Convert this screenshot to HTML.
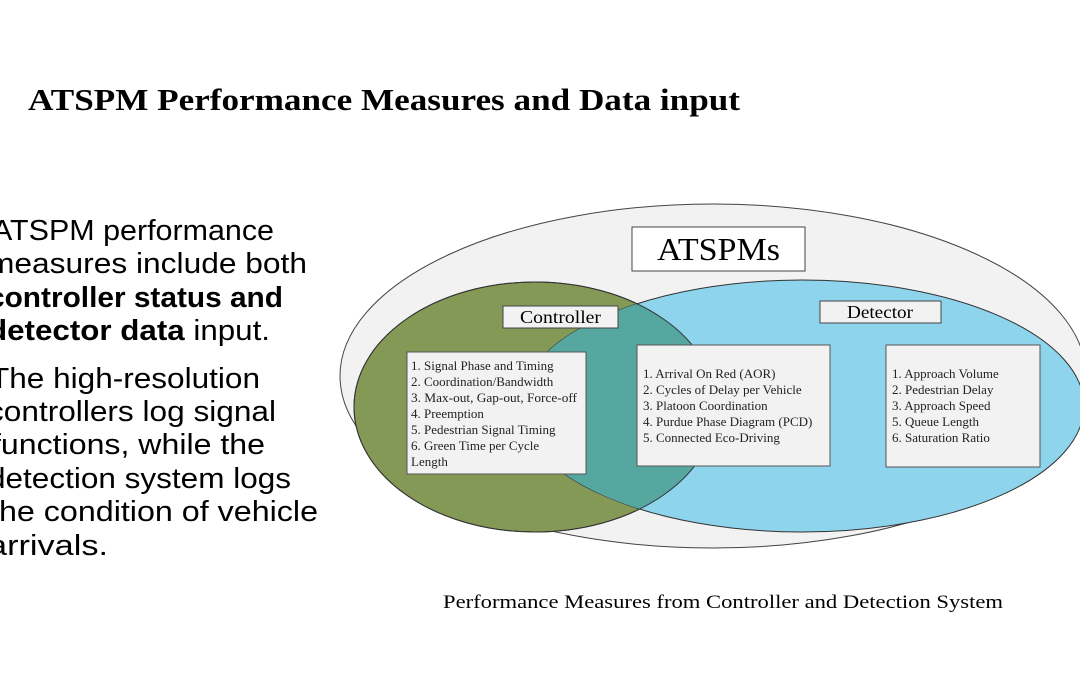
<!DOCTYPE html>
<html><head><meta charset="utf-8"><style>
html,body{margin:0;padding:0;background:#fff;width:1080px;height:675px;overflow:hidden;position:relative}
</style></head><body>
<svg width="1080" height="675" style="position:absolute;left:0;top:0" font-family="Liberation Serif, serif">
<text x="28" y="110" font-size="31" font-weight="bold" textLength="712" lengthAdjust="spacingAndGlyphs">ATSPM Performance Measures and Data input</text>
<g font-family="Liberation Sans, sans-serif" font-size="29" fill="#000">
<text x="-8" y="240" textLength="282" lengthAdjust="spacingAndGlyphs">ATSPM performance</text>
<text x="-12" y="273" textLength="319" lengthAdjust="spacingAndGlyphs">measures include both</text>
<text x="-12" y="307" font-weight="bold" textLength="295" lengthAdjust="spacingAndGlyphs">controller status and</text>
<text x="-12" y="340" textLength="282" lengthAdjust="spacingAndGlyphs"><tspan font-weight="bold">detector data</tspan> input.</text>
<text x="-10" y="388" textLength="270" lengthAdjust="spacingAndGlyphs">The high-resolution</text>
<text x="-12" y="421" textLength="288" lengthAdjust="spacingAndGlyphs">controllers log signal</text>
<text x="-8" y="454" textLength="273" lengthAdjust="spacingAndGlyphs">functions, while the</text>
<text x="-12" y="488" textLength="303" lengthAdjust="spacingAndGlyphs">detection system logs</text>
<text x="-10" y="521" textLength="328" lengthAdjust="spacingAndGlyphs">the condition of vehicle</text>
<text x="-12" y="555" textLength="120" lengthAdjust="spacingAndGlyphs">arrivals.</text>
</g>
<defs><clipPath id="g"><ellipse cx="535" cy="407" rx="181" ry="125"/></clipPath></defs>
<ellipse cx="713" cy="376" rx="373" ry="172" fill="#f2f2f2" stroke="#444" stroke-width="1"/>
<ellipse cx="535" cy="407" rx="181" ry="125" fill="#859957" stroke="#333" stroke-width="1"/>
<ellipse cx="802" cy="406" rx="282" ry="126" fill="#8dd4ec" stroke="#333" stroke-width="1"/>
<ellipse cx="802" cy="406" rx="282" ry="126" fill="#55a7a0" clip-path="url(#g)"/>
<ellipse cx="535" cy="407" rx="181" ry="125" fill="none" stroke="#333" stroke-width="1"/>
<rect x="632" y="227" width="173" height="44" fill="#fff" stroke="#444"/>
<text x="657" y="260" font-size="32" textLength="123" lengthAdjust="spacingAndGlyphs">ATSPMs</text>
<rect x="503" y="306" width="115" height="22" fill="#f2f2f2" stroke="#444"/>
<text x="520" y="323" font-size="18" textLength="81" lengthAdjust="spacingAndGlyphs">Controller</text>
<rect x="820" y="301" width="121" height="22" fill="#f2f2f2" stroke="#444"/>
<text x="847" y="318" font-size="18" textLength="66" lengthAdjust="spacingAndGlyphs">Detector</text>
<g font-size="13" fill="#222">
<rect x="407" y="352" width="179" height="122" fill="#f2f2f2" stroke="#555"/>
<text x="411" y="370">1. Signal Phase and Timing</text>
<text x="411" y="386">2. Coordination/Bandwidth</text>
<text x="411" y="402" textLength="166" lengthAdjust="spacingAndGlyphs">3. Max-out, Gap-out, Force-off</text>
<text x="411" y="418">4. Preemption</text>
<text x="411" y="434">5. Pedestrian Signal Timing</text>
<text x="411" y="450">6. Green Time per Cycle</text>
<text x="411" y="466">Length</text>
<rect x="637" y="345" width="193" height="121" fill="#f2f2f2" stroke="#555"/>
<text x="643" y="378">1. Arrival On Red (AOR)</text>
<text x="643" y="394">2. Cycles of Delay per Vehicle</text>
<text x="643" y="410">3. Platoon Coordination</text>
<text x="643" y="426">4. Purdue Phase Diagram (PCD)</text>
<text x="643" y="442">5. Connected Eco-Driving</text>
<rect x="886" y="345" width="154" height="122" fill="#f2f2f2" stroke="#555"/>
<text x="892" y="378">1. Approach Volume</text>
<text x="892" y="394">2. Pedestrian Delay</text>
<text x="892" y="410">3. Approach Speed</text>
<text x="892" y="426">5. Queue Length</text>
<text x="892" y="442">6. Saturation Ratio</text>
</g>
<text x="443" y="608" font-size="19" textLength="560" lengthAdjust="spacingAndGlyphs">Performance Measures from Controller and Detection System</text>
</svg>
</body></html>
